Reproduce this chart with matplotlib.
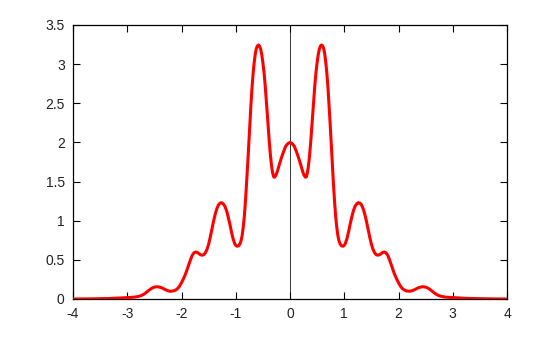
import matplotlib
matplotlib.use("Agg")
import matplotlib.pyplot as plt

# Left half of the curve
x_left = [-4.00, -3.80, -3.65, -3.50, -3.35, -3.20, -3.10, -3.00, -2.90, -2.85, -2.80,
          -2.75, -2.70, -2.66, -2.62, -2.58, -2.54, -2.50, -2.46, -2.42, -2.38, -2.34,
          -2.30, -2.26, -2.22, -2.18, -2.14, -2.10, -2.07, -2.04, -2.01, -1.98, -1.95,
          -1.92, -1.89, -1.86, -1.83, -1.80, -1.77, -1.74, -1.71, -1.68, -1.65, -1.62,
          -1.59, -1.56, -1.53, -1.50, -1.47, -1.44, -1.41, -1.38, -1.35, -1.32, -1.29,
          -1.26, -1.23, -1.20, -1.17, -1.14, -1.11, -1.08, -1.05, -1.02, -1.00, -0.98,
          -0.96, -0.94, -0.92, -0.90, -0.88, -0.86, -0.84, -0.82, -0.80, -0.78, -0.76,
          -0.74, -0.72, -0.70, -0.68, -0.66, -0.64, -0.62, -0.60, -0.58, -0.56, -0.54,
          -0.52, -0.50, -0.48, -0.46, -0.44, -0.42, -0.40, -0.38, -0.36, -0.34, -0.32,
          -0.30, -0.29, -0.28, -0.26, -0.24, -0.22, -0.20, -0.16, -0.12, -0.08, -0.04]
y_left = [0.000, 0.001, 0.002, 0.004, 0.006, 0.010, 0.014, 0.018, 0.022, 0.026, 0.032,
          0.042, 0.058, 0.078, 0.100, 0.122, 0.140, 0.152, 0.156, 0.154, 0.147, 0.135,
          0.120, 0.108, 0.100, 0.100, 0.105, 0.118, 0.135, 0.160, 0.195, 0.235, 0.280,
          0.330, 0.390, 0.450, 0.510, 0.560, 0.590, 0.600, 0.595, 0.580, 0.565, 0.560,
          0.565, 0.590, 0.635, 0.700, 0.790, 0.890, 0.990, 1.080, 1.150, 1.200, 1.225,
          1.230, 1.215, 1.185, 1.130, 1.050, 0.960, 0.860, 0.770, 0.710, 0.685, 0.675,
          0.675, 0.685, 0.710, 0.750, 0.820, 0.930, 1.070, 1.260, 1.480, 1.720, 1.980,
          2.240, 2.480, 2.700, 2.880, 3.020, 3.130, 3.200, 3.235, 3.245, 3.230, 3.190,
          3.120, 3.020, 2.900, 2.750, 2.570, 2.380, 2.180, 1.990, 1.830, 1.700, 1.610,
          1.560, 1.555, 1.560, 1.580, 1.615, 1.660, 1.710, 1.800, 1.880, 1.950, 1.985]

# Right half of the curve
x_right = [0.00, 0.04, 0.08, 0.12, 0.16, 0.20, 0.22, 0.24, 0.26, 0.28, 0.29, 0.30, 0.32,
           0.34, 0.36, 0.38, 0.40, 0.42, 0.44, 0.46, 0.48, 0.50, 0.52, 0.54, 0.56, 0.58,
           0.60, 0.62, 0.64, 0.66, 0.68, 0.70, 0.72, 0.74, 0.76, 0.78, 0.80, 0.82, 0.84,
           0.86, 0.88, 0.90, 0.92, 0.94, 0.96, 0.98, 1.00, 1.02, 1.05, 1.08, 1.11, 1.14,
           1.17, 1.20, 1.23, 1.26, 1.29, 1.32, 1.35, 1.38, 1.41, 1.44, 1.47, 1.50, 1.53,
           1.56, 1.59, 1.62, 1.65, 1.68, 1.71, 1.74, 1.77, 1.80, 1.83, 1.86, 1.89, 1.92,
           1.95, 1.98, 2.01, 2.04, 2.07, 2.10, 2.14, 2.18, 2.22, 2.26, 2.30, 2.34, 2.38,
           2.42, 2.46, 2.50, 2.54, 2.58, 2.62, 2.66, 2.70, 2.75, 2.80, 2.85, 2.90, 3.00,
           3.10, 3.20, 3.35, 3.50, 3.65, 3.80, 4.00]
y_right = [2.000, 1.985, 1.950, 1.880, 1.800, 1.710, 1.660, 1.615, 1.580, 1.560, 1.555,
           1.560, 1.610, 1.700, 1.830, 1.990, 2.180, 2.380, 2.570, 2.750, 2.900, 3.020,
           3.120, 3.190, 3.230, 3.245, 3.235, 3.200, 3.130, 3.020, 2.880, 2.700, 2.480,
           2.240, 1.980, 1.720, 1.480, 1.260, 1.070, 0.930, 0.820, 0.750, 0.710, 0.685,
           0.675, 0.675, 0.685, 0.710, 0.770, 0.860, 0.960, 1.050, 1.130, 1.185, 1.215,
           1.230, 1.225, 1.200, 1.150, 1.080, 0.990, 0.890, 0.790, 0.700, 0.635, 0.590,
           0.565, 0.560, 0.565, 0.580, 0.595, 0.600, 0.590, 0.560, 0.510, 0.450, 0.390,
           0.330, 0.280, 0.235, 0.195, 0.160, 0.135, 0.118, 0.105, 0.100, 0.100, 0.108,
           0.120, 0.135, 0.147, 0.154, 0.156, 0.152, 0.140, 0.122, 0.100, 0.078, 0.058,
           0.042, 0.032, 0.026, 0.022, 0.018, 0.014, 0.010, 0.006, 0.004, 0.002, 0.001,
           0.000]

x_ticks = [-4, -3, -2, -1, 0, 1, 2, 3, 4]
x_tick_labels = ["-4", "-3", "-2", "-1", "0", "1", "2", "3", "4"]
y_ticks = [0, 0.5, 1, 1.5, 2, 2.5, 3, 3.5]
y_tick_labels = ["0", "0.5", "1", "1.5", "2", "2.5", "3", "3.5"]

plt.rcParams['font.family'] = ['Liberation Sans', 'DejaVu Sans']

fig = plt.figure(figsize=(5.6, 3.37), dpi=100)
ax = fig.add_axes([73 / 560, 38 / 337, 434 / 560, 274 / 337])

ax.axvline(0, color="#333333", lw=0.7, zorder=1)
ax.plot(x_left + x_right, y_left + y_right, color="#ff0000", lw=2.2,
        solid_joinstyle="round", solid_capstyle="round", zorder=3)

ax.set_xlim(-4, 4)
ax.set_ylim(0, 3.5)
ax.set_xticks(x_ticks)
ax.set_xticklabels(x_tick_labels)
ax.set_yticks(y_ticks)
ax.set_yticklabels(y_tick_labels)
ax.tick_params(direction="in", length=5, width=0.8, top=True, right=True,
               labelsize=10, colors="#000000", labelcolor="#222222")
ax.tick_params(axis="x", pad=6)
ax.tick_params(axis="y", pad=6)
for s in ax.spines.values():
    s.set_linewidth(0.9)
    s.set_color("#000000")

fig.savefig("out.png", dpi=100)
